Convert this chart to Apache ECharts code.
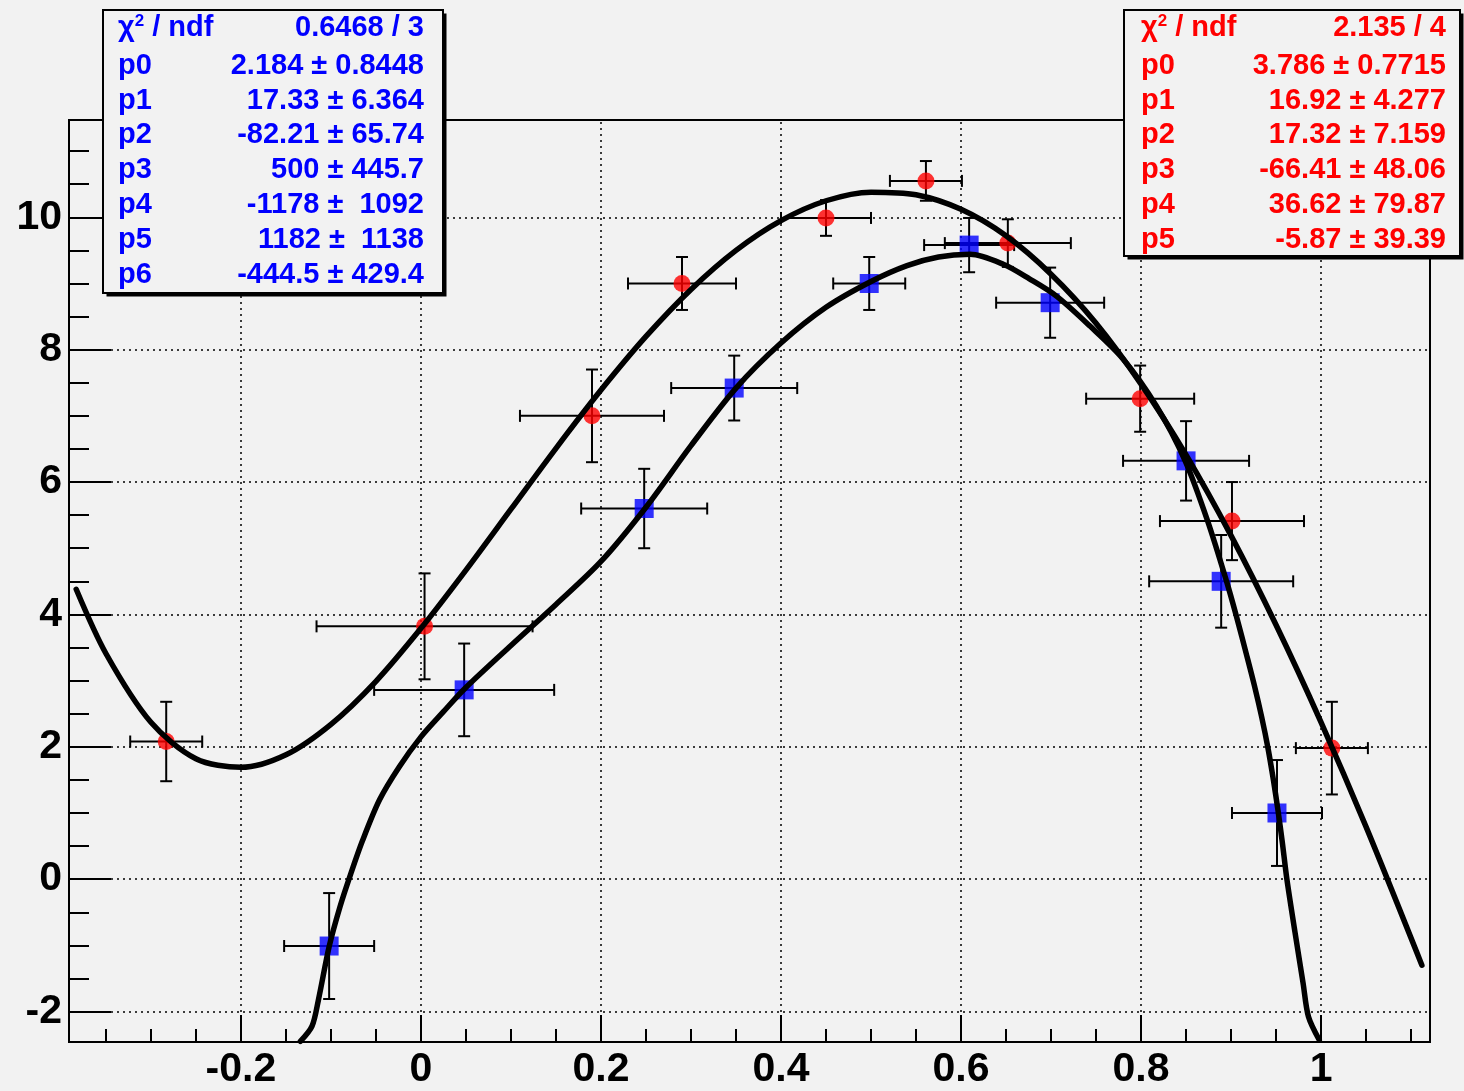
<!DOCTYPE html>
<html>
<head>
<meta charset="utf-8">
<title>pol5 / pol6 fits</title>
<script src="https://cdn.jsdelivr.net/npm/echarts@6.0.0/dist/echarts.min.js"></script>
<style>
    html, body { margin: 0; padding: 0; background: #f2f2f2; }
    #chart { width: 1464px; height: 1091px; }
</style>
</head>
<body>
<div id="chart"></div>
<script>
// axis ranges and ticks
const xRange = [-0.391, 1.121]
const yRange = [-2.46, 11.47]
const xLabelValues = [-0.2, 0, 0.2, 0.4, 0.6, 0.8, 1]
const xMinorValues = [-0.35, -0.3, -0.25, -0.2, -0.15, -0.1, -0.05, 0, 0.05, 0.1, 0.15, 0.2, 0.25, 0.3, 0.35,
    0.4, 0.45, 0.5, 0.55, 0.6, 0.65, 0.7, 0.75, 0.8, 0.85, 0.9, 0.95, 1, 1.05, 1.1]
const yLabelValues = [-2, 0, 2, 4, 6, 8, 10]
const yMinorValues = [-2, -1.5, -1, -0.5, 0, 0.5, 1, 1.5, 2, 2.5, 3, 3.5, 4, 4.5, 5, 5.5, 6, 6.5, 7, 7.5,
    8, 8.5, 9, 9.5, 10, 10.5, 11]

// red graph (circles)
const redX = [-0.283, 0.004, 0.190, 0.290, 0.450, 0.561, 0.652, 0.799, 0.901, 1.012]
const redY = [2.08, 3.82, 7.00, 9.00, 9.99, 10.55, 9.61, 7.26, 5.41, 1.98]
const redEX = [0.04, 0.12, 0.08, 0.06, 0.05, 0.04, 0.07, 0.06, 0.08, 0.04]
const redEY = [0.60, 0.80, 0.70, 0.40, 0.27, 0.30, 0.36, 0.50, 0.59, 0.70]

// blue graph (squares)
const blueX = [-0.102, 0.048, 0.248, 0.348, 0.498, 0.609, 0.699, 0.850, 0.889, 0.951]
const blueY = [-1.01, 2.86, 5.60, 7.42, 9.00, 9.58, 8.71, 6.32, 4.50, 1.00]
const blueEX = [0.05, 0.10, 0.07, 0.07, 0.04, 0.05, 0.06, 0.07, 0.08, 0.05]
const blueEY = [0.80, 0.70, 0.60, 0.49, 0.40, 0.41, 0.53, 0.60, 0.70, 0.80]

// fit curves
const redFitX = [-0.383, -0.35, -0.30, -0.25, -0.20, -0.15, -0.10, -0.05, 0.00, 0.05, 0.10, 0.15, 0.20, 0.25,
    0.30, 0.35, 0.40, 0.45, 0.50, 0.55, 0.60, 0.65, 0.70, 0.75, 0.80, 0.85, 0.90, 0.95, 1.00, 1.05, 1.112]
const redFitY = [4.38, 3.41, 2.37, 1.82, 1.69, 1.88, 2.34, 2.99, 3.79, 4.67, 5.59, 6.51, 7.39, 8.20,
    8.91, 9.50, 9.95, 10.25, 10.38, 10.34, 10.12, 9.72, 9.14, 8.40, 7.48, 6.41, 5.19, 3.84, 2.37, 0.79, -1.30]

const blueFitX = [-0.134, -0.121, -0.114, -0.102, -0.090, -0.078, -0.065, -0.046, -0.024, 0.000, 0.025, 0.048,
    0.100, 0.150, 0.200, 0.250, 0.300, 0.350, 0.400, 0.450, 0.500, 0.540, 0.575, 0.610,
    0.647, 0.676, 0.706, 0.743, 0.780, 0.817, 0.849, 0.874, 0.895, 0.906, 0.917, 0.926, 0.934, 0.941, 0.947,
    0.952, 0.957, 0.962, 0.971, 0.980, 0.986, 0.998]
const blueFitY = [-2.45, -2.22, -1.83, -1.02, -0.42, 0.08, 0.58, 1.20, 1.70, 2.15, 2.53, 2.87,
    3.53, 4.15, 4.80, 5.62, 6.55, 7.42, 8.10, 8.64, 9.03, 9.27, 9.40, 9.44,
    9.29, 9.07, 8.81, 8.36, 7.86, 7.15, 6.32, 5.41, 4.50, 3.97, 3.40, 2.92, 2.45, 1.98, 1.50,
    1.05, 0.55, 0.00, -0.80, -1.57, -2.08, -2.43]

// stats boxes
const blueStatNames = ['{t|χ}{s|2}{t| / ndf}', 'p0', 'p1', 'p2', 'p3', 'p4', 'p5', 'p6']
const blueStatValues = ['0.6468 / 3', '2.184 ± 0.8448', '17.33 ± 6.364', '-82.21 ± 65.74', '500 ± 445.7',
    '-1178 ±  1092', '1182 ±  1138', '-444.5 ± 429.4']
const redStatNames = ['{t|χ}{s|2}{t| / ndf}', 'p0', 'p1', 'p2', 'p3', 'p4', 'p5']
const redStatValues = ['2.135 / 4', '3.786 ± 0.7715', '16.92 ± 4.277', '17.32 ± 7.159', '-66.41 ± 48.06',
    '36.62 ± 79.87', '-5.87 ± 39.39']

const BG = '#f2f2f2'
const FONT = '"Liberation Sans", Arial, Helvetica, sans-serif'
const STAT_SIZE = 29
const ROW_Y = [28, 66, 100.5, 135, 170, 205, 240, 275]

function pairs(xs, ys) {
    return xs.map((x, i) => [x, ys[i]])
}

function errRows(xs, ys, exs, eys) {
    return xs.map((x, i) => [x, ys[i], exs[i], eys[i]])
}

// horizontal + vertical error bars with small end caps
function renderErrorBars(params, api) {
    const x = api.value(0)
    const y = api.value(1)
    const ex = api.value(2)
    const ey = api.value(3)
    const l = api.coord([x - ex, y])
    const r = api.coord([x + ex, y])
    const t = api.coord([x, y + ey])
    const b = api.coord([x, y - ey])
    const c = 6
    const style = { stroke: '#000', lineWidth: 2, fill: null }
    const seg = (x1, y1, x2, y2) => ({ type: 'line', shape: { x1, y1, x2, y2 }, style })
    return {
        type: 'group',
        children: [
            seg(l[0], l[1], r[0], r[1]),
            seg(l[0], l[1] - c, l[0], l[1] + c),
            seg(r[0], r[1] - c, r[0], r[1] + c),
            seg(t[0], t[1], b[0], b[1]),
            seg(t[0] - c, t[1], t[0] + c, t[1]),
            seg(b[0] - c, b[1], b[0] + c, b[1]),
        ],
    }
}

function statsBox(box, names, values, color, labelX, valueX) {
    const els = [
        { type: 'rect', z: 100, shape: { x: box.x + 3.5, y: box.y + 3.5, width: box.w, height: box.h },
          style: { fill: '#000' } },
        { type: 'rect', z: 101, shape: { x: box.x, y: box.y, width: box.w, height: box.h },
          style: { fill: BG, stroke: '#000', lineWidth: 2 } },
    ]
    const font = 'bold ' + STAT_SIZE + 'px ' + FONT
    const rich = {
        t: { fill: color, color: color, fontFamily: FONT, fontWeight: 'bold', fontSize: STAT_SIZE, lineHeight: 30 },
        s: { fill: color, color: color, fontFamily: FONT, fontWeight: 'bold', fontSize: 17, lineHeight: 30,
             verticalAlign: 'top' },
    }
    names.forEach((name, i) => {
        const common = { fill: color, font, verticalAlign: 'middle', textVerticalAlign: 'middle' }
        els.push({ type: 'text', z: 102, x: labelX, y: ROW_Y[i],
            style: Object.assign({ text: name, rich, align: 'left', textAlign: 'left' }, common) })
        els.push({ type: 'text', z: 102, x: valueX, y: ROW_Y[i],
            style: Object.assign({ text: values[i], align: 'right', textAlign: 'right' }, common) })
    })
    return els
}

const chart = echarts.init(document.getElementById('chart'), null, { renderer: 'canvas' })

const axisLabelStyle = { color: '#000', fontFamily: FONT, fontWeight: 'bold', fontSize: 41 }
const gridLineStyle = { color: '#000', width: 1.5, type: [2, 4] }
const tickLine = { color: '#000', width: 2 }
const hiddenLine = { show: false, onZero: false }

chart.setOption({
    backgroundColor: BG,
    animation: false,
    grid: {
        left: 69, top: 120, right: 34, bottom: 49,
        show: true, borderColor: '#000', borderWidth: 2, backgroundColor: 'transparent',
    },
    xAxis: [
        {
            type: 'value', position: 'bottom', min: xRange[0], max: xRange[1],
            axisLine: hiddenLine,
            splitLine: { show: false },
            axisTick: { show: true, inside: true, length: 27, customValues: xLabelValues, lineStyle: tickLine },
            axisLabel: Object.assign({ margin: 7, customValues: xLabelValues,
                formatter: v => String(v) }, axisLabelStyle),
        },
        {
            type: 'value', position: 'bottom', min: xRange[0], max: xRange[1],
            axisLine: hiddenLine,
            splitLine: { show: false },
            axisLabel: { show: false },
            axisTick: { show: true, inside: true, length: 13, customValues: xMinorValues, lineStyle: tickLine },
        },
    ],
    yAxis: [
        {
            type: 'value', position: 'left', min: yRange[0], max: yRange[1],
            axisLine: hiddenLine,
            splitLine: { show: false },
            axisTick: { show: true, inside: true, length: 42, customValues: yLabelValues, lineStyle: tickLine },
            axisLabel: Object.assign({ margin: 7, customValues: yLabelValues,
                formatter: v => String(v) }, axisLabelStyle),
        },
        {
            type: 'value', position: 'left', min: yRange[0], max: yRange[1],
            axisLine: hiddenLine,
            splitLine: { show: false },
            axisLabel: { show: false },
            axisTick: { show: true, inside: true, length: 20, customValues: yMinorValues, lineStyle: tickLine },
        },
    ],
    series: [
        {
            name: 'red errors', type: 'custom', z: 2, silent: true,
            renderItem: renderErrorBars,
            encode: { x: 0, y: 1 },
            data: errRows(redX, redY, redEX, redEY),
        },
        {
            name: 'blue errors', type: 'custom', z: 2, silent: true,
            renderItem: renderErrorBars,
            encode: { x: 0, y: 1 },
            data: errRows(blueX, blueY, blueEX, blueEY),
        },
        {
            name: 'red', type: 'scatter', z: 3, silent: true,
            symbol: 'circle', symbolSize: 17,
            itemStyle: { color: '#ff0000' },
            data: pairs(redX, redY),
        },
        {
            name: 'blue', type: 'scatter', z: 3, silent: true,
            symbol: 'rect', symbolSize: 19,
            itemStyle: { color: '#0000ff' },
            data: pairs(blueX, blueY),
        },
        {
            name: 'red fit', type: 'line', z: 4, silent: true,
            showSymbol: false, smooth: 0.3,
            lineStyle: { color: '#000', width: 5.5, cap: 'round', join: 'round' },
            data: pairs(redFitX, redFitY),
            markLine: {
                z: 1, silent: true, symbol: ['none', 'none'], animation: false,
                label: { show: false },
                emphasis: { disabled: true },
                lineStyle: gridLineStyle,
                data: xLabelValues.map(v => ({ xAxis: v })).concat(yLabelValues.map(v => ({ yAxis: v }))),
            },
        },
        {
            name: 'blue fit', type: 'line', z: 4, silent: true,
            showSymbol: false, smooth: 0.3,
            lineStyle: { color: '#000', width: 5.5, cap: 'round', join: 'round' },
            data: pairs(blueFitX, blueFitY),
        },
    ],
    graphic: {
        elements: []
            .concat(statsBox({ x: 103, y: 10, w: 340, h: 283 }, blueStatNames, blueStatValues, '#0000ff', 118, 424))
            .concat(statsBox({ x: 1124, y: 10, w: 336, h: 246 }, redStatNames, redStatValues, '#ff0000', 1141, 1446)),
    },
})
</script>
</body>
</html>
